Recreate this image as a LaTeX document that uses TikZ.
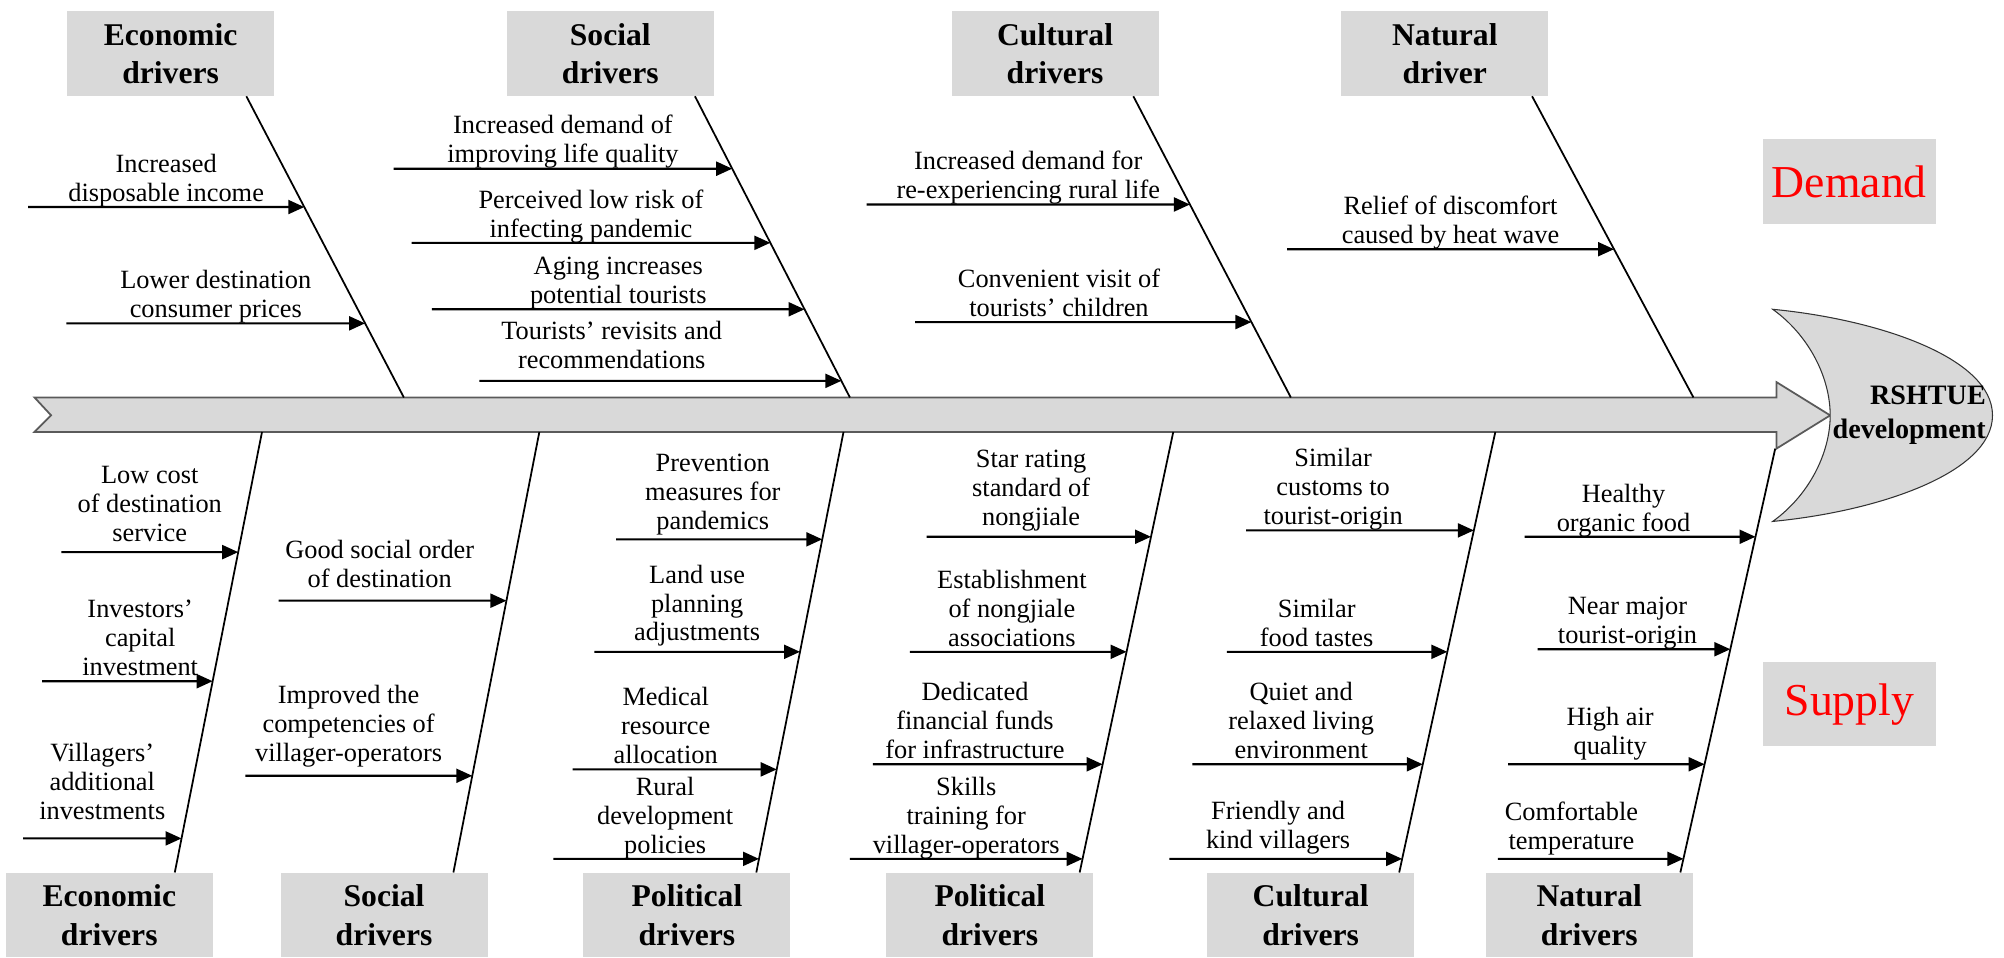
\documentclass[tikz,border=0pt]{standalone}
\usepackage{fontspec}
\setmainfont{Liberation Serif}
\usepackage{tikz}
\usetikzlibrary{arrows.meta,calc,intersections}

\definecolor{boxgray}{RGB}{217,217,217}
\definecolor{edgegray}{RGB}{90,90,90}

\begin{document}
\begin{tikzpicture}[x=0.2556mm, y=-0.2556mm, >={Triangle[length=3.2mm,width=2.8mm]}]

    \tikzstyle{driver}=[fill=boxgray, align=center, inner sep=0pt, minimum width=41.4mm, minimum height=16.9mm, font={\fontsize{18}{22}\selectfont\bfseries}]
    \tikzstyle{side}=[fill=boxgray, text=red, inner sep=0pt, minimum width=34.5mm, minimum height=16.9mm, font={\fontsize{26}{30}\selectfont}]
    \tikzstyle{cause}=[align=center, anchor=south, inner sep=1pt, text depth=3.5pt, shift={(0,2)}, font={\fontsize{15}{16.5}\selectfont}]
    \tikzstyle{causearrow}=[->, line width=1.2pt]
    \tikzstyle{bone}=[line width=1pt]
    \tikzstyle{spine}=[fill=boxgray, draw=edgegray, line width=1pt]
    \tikzstyle{head}=[fill=boxgray, draw=black!80, line width=0.6pt]

    \newcommand\causeline[6][]{
        \coordinate (#2_s) at (#5,#4);
        \path[name path=#2_h] (#2_s) -- (1568,#4);
        \path[name intersections={of=#3 and #2_h, by=#2_e}];
        \draw[causearrow] (#2_s) -- (#2_e);
        \node[cause, #1] (#2) at ($(#2_s)!0.5!(#2_e)$) {#6};
    }
    %\causeline[nodestyle]{name}{bone}{y}{xstart}{text};

    \useasboundingbox (0,0) rectangle (1568,749);

    % the spine and the head
    \draw[spine] (27,311) -- (1390,311) -- (1390,299) -- (1432,325) -- (1390,351) -- (1390,338) -- (27,338) -- (40,325) -- cycle;
    \draw[head] (1387,242) .. controls (1470,250) and (1559,280) .. (1559,325) .. controls (1559,370) and (1470,400) .. (1387,408) .. controls (1415,388) and (1432,355) .. (1432,325) .. controls (1432,295) and (1415,262) .. cycle;
    \node[align=right, anchor=east, inner sep=0pt, font={\fontsize{16}{19}\selectfont\bfseries}] (rshtue) at (1554,325) {RSHTUE\\development};

    % demand side drivers
    \node[driver] (eco_top) at (133.5,42) {Economic\\drivers};
    \node[driver] (soc_top) at (477.5,42) {Social\\drivers};
    \node[driver] (cul_top) at (825.5,42) {Cultural\\drivers};
    \node[driver] (nat_top) at (1130.5,42) {Natural\\driver};
    \node[side] (demand) at (1447,142) {Demand};

    % supply side drivers
    \node[driver] (eco_bot) at (85.5,716) {Economic\\drivers};
    \node[driver] (soc_bot) at (300.5,716) {Social\\drivers};
    \node[driver] (pol_a_bot) at (537.5,716) {Political\\drivers};
    \node[driver] (pol_b_bot) at (774.5,716) {Political\\drivers};
    \node[driver] (cul_bot) at (1025.5,716) {Cultural\\drivers};
    \node[driver] (nat_bot) at (1243.5,716) {Natural\\drivers};
    \node[side] (supply) at (1447,551) {Supply};

    % the bones, upper half
    \draw[bone, name path=eco_up] ($(eco_top.south east)+(-22,0)$) -- (316,311);
    \draw[bone, name path=soc_up] ($(soc_top.south east)+(-15,0)$) -- (665,311);
    \draw[bone, name path=cul_up] ($(cul_top.south east)+(-20,0)$) -- (1010,311);
    \draw[bone, name path=nat_up] ($(nat_top.south east)+(-13,0)$) -- (1325,311);

    % the bones, lower half
    \draw[bone, name path=eco_lo] (205,338) -- ($(eco_bot.north east)+(-30,0)$);
    \draw[bone, name path=soc_lo] (422,338) -- ($(soc_bot.north east)+(-27,0)$);
    \draw[bone, name path=pol_a_lo] (660,338) -- ($(pol_a_bot.north east)+(-27,0)$);
    \draw[bone, name path=pol_b_lo] (918,338) -- ($(pol_b_bot.north east)+(-11,0)$);
    \draw[bone, name path=cul_lo] (1170,338) -- ($(cul_bot.north east)+(-12,0)$);
    \draw[bone, name path=nat_lo] (1389,351) -- ($(nat_bot.north east)+(-10,0)$);

    % demand causes
    \causeline{inc_income}{eco_up}{162}{22}{Increased\\disposable income};
    \causeline{low_prices}{eco_up}{253}{52}{Lower destination\\consumer prices};
    \causeline{life_quality}{soc_up}{132}{308}{Increased demand of\\improving life quality};
    \causeline{low_risk}{soc_up}{190}{322}{Perceived low risk of\\infecting pandemic};
    \causeline{aging}{soc_up}{242}{338}{Aging increases\\potential tourists};
    \causeline[shift={(-38,-5)}]{revisits}{soc_up}{298}{375}{Tourists' revisits and\\recommendations};
    \causeline{rural_life}{cul_up}{160}{678}{Increased demand for\\re-experiencing rural life};
    \causeline[shift={(-19,0)}]{children}{cul_up}{252}{716}{Convenient visit of\\tourists' children};
    \causeline{heat_wave}{nat_up}{195}{1007}{Relief of discomfort\\caused by heat wave};

    % supply causes
    \causeline[shift={(0,-4)}]{low_cost}{eco_lo}{432}{48}{Low cost\\of destination\\service};
    \causeline[shift={(10,0)}]{investors}{eco_lo}{533}{33}{Investors'\\capital\\investment};
    \causeline[shift={(0,-10)}]{villagers}{eco_lo}{656}{18}{Villagers'\\additional\\investments};
    \causeline[shift={(-10,-6)}]{social_order}{soc_lo}{470}{218}{Good social order\\of destination};
    \causeline[shift={(-8,-7)}]{competencies}{soc_lo}{607}{192}{Improved the\\competencies of\\villager-operators};
    \causeline[shift={(-5,-3)}]{prevention}{pol_a_lo}{422}{482}{Prevention\\measures for\\pandemics};
    \causeline[shift={(0,-4)}]{land_use}{pol_a_lo}{510}{465}{Land use\\planning\\adjustments};
    \causeline[shift={(-7,0)}]{medical}{pol_a_lo}{602}{448}{Medical\\resource\\allocation};
    \causeline[shift={(7,0)}]{rural_policies}{pol_a_lo}{672}{433}{Rural\\development\\policies};
    \causeline[shift={(-6,-4)}]{star_rating}{pol_b_lo}{420}{725}{Star rating\\standard of\\nongjiale};
    \causeline[shift={(-5,0)}]{associations}{pol_b_lo}{510}{712}{Establishment\\of nongjiale\\associations};
    \causeline[shift={(-10,0)}]{funds}{pol_b_lo}{598}{683}{Dedicated\\financial funds\\for infrastructure};
    \causeline{skills}{pol_b_lo}{672}{665}{Skills\\training for\\villager-operators};
    \causeline[shift={(-21,0)}]{customs}{cul_lo}{415}{975}{Similar\\customs to\\tourist-origin};
    \causeline[shift={(-16,0)}]{food_tastes}{cul_lo}{510}{960}{Similar\\food tastes};
    \causeline[shift={(-5,0)}]{quiet}{cul_lo}{598}{933}{Quiet and\\relaxed living\\environment};
    \causeline[shift={(-6,-4)}]{friendly}{cul_lo}{672}{915}{Friendly and\\kind villagers};
    \causeline[shift={(-13,0)}]{organic_food}{nat_lo}{420}{1193}{Healthy\\organic food};
    \causeline[shift={(-5,0)}]{near_origin}{nat_lo}{508}{1203}{Near major\\tourist-origin};
    \causeline[shift={(3,-3)}]{air_quality}{nat_lo}{598}{1180}{High air\\quality};
    \causeline[shift={(-15,-3)}]{temperature}{nat_lo}{672}{1172}{Comfortable\\temperature};

\end{tikzpicture}
\end{document}
